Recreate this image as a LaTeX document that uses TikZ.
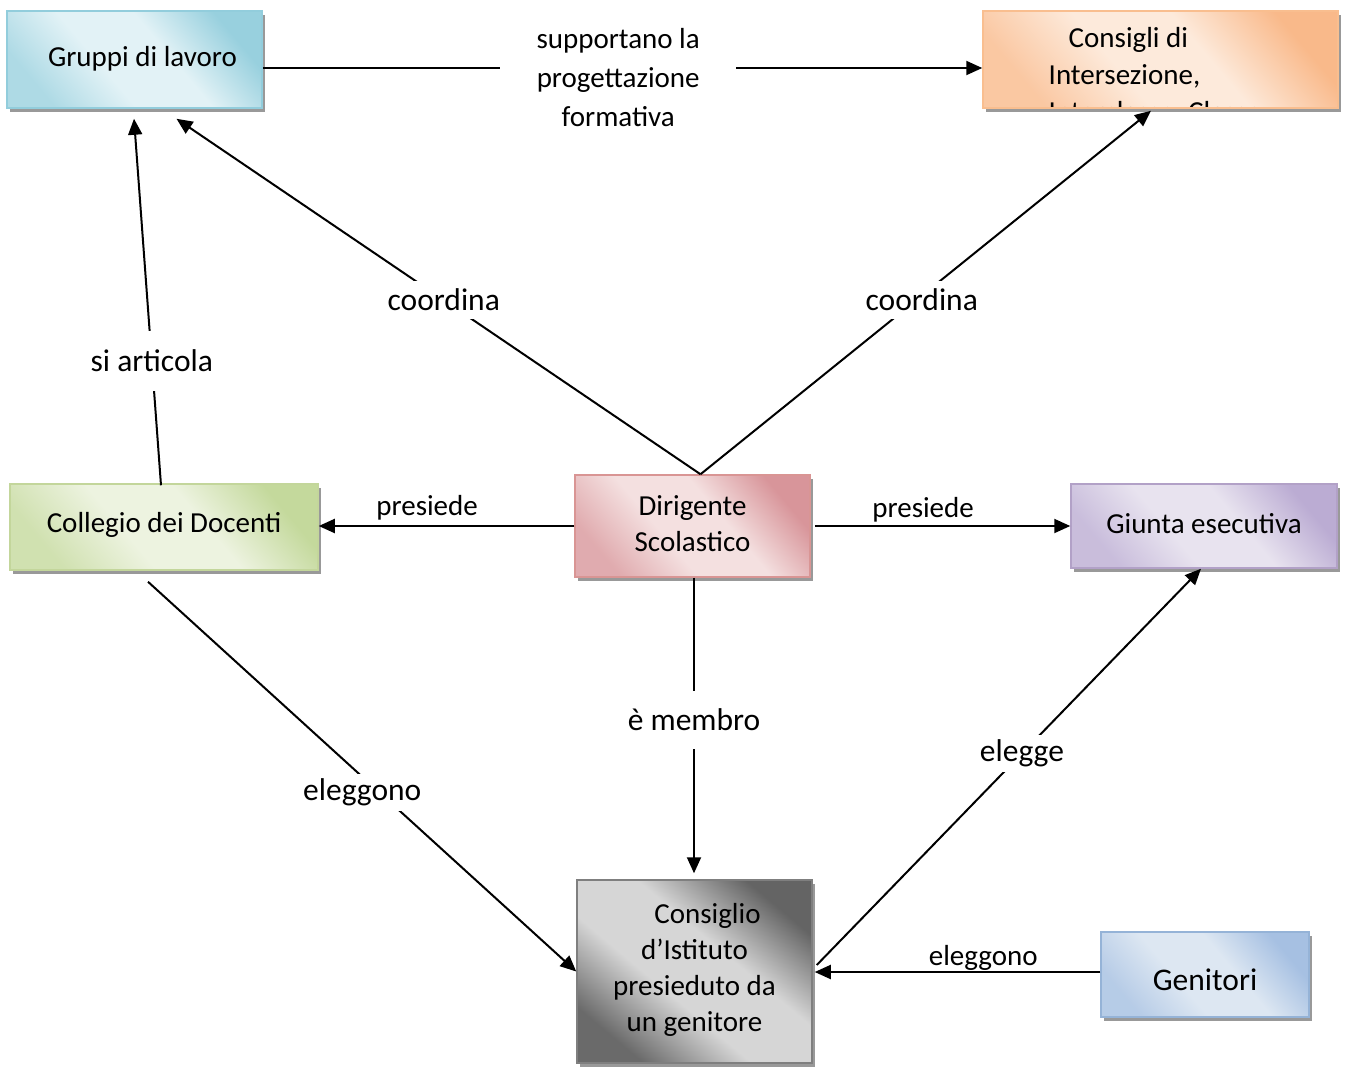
\documentclass[tikz,border=0pt]{standalone}
\usepackage{fontspec}
\setmainfont{Carlito}
\usetikzlibrary{arrows.meta,shadows,calc}
\definecolor{grB}{HTML}{92CDDC}\definecolor{grD}{HTML}{98D0DE}\definecolor{grP}{HTML}{E2F2F6}
\definecolor{coB}{HTML}{F9BE8F}\definecolor{coD}{HTML}{F9B98A}\definecolor{coP}{HTML}{FDEADB}
\definecolor{clB}{HTML}{C3D69B}\definecolor{clD}{HTML}{C4D99C}\definecolor{clP}{HTML}{EDF3E0}
\definecolor{diB}{HTML}{D99594}\definecolor{diD}{HTML}{D8959A}\definecolor{diP}{HTML}{F4E0E0}
\definecolor{giB}{HTML}{B2A1C7}\definecolor{giD}{HTML}{BBACD3}\definecolor{giP}{HTML}{E8E3EF}
\definecolor{geB}{HTML}{95B3D7}\definecolor{geD}{HTML}{A6C0E2}\definecolor{geP}{HTML}{DDE7F2}
\definecolor{ciB}{HTML}{7F7F7F}\definecolor{ciD}{HTML}{646464}\definecolor{ciP}{HTML}{D6D6D6}
\colorlet{grL}{grD!70!grP}\colorlet{coL}{coD!70!coP}\colorlet{clL}{clD!70!clP}
\colorlet{diL}{diD!70!diP}\colorlet{giL}{giD!70!giP}\colorlet{geL}{geD!70!geP}\colorlet{ciL}{ciD!95!ciP}
\colorlet{shlo}{white}\colorlet{shpa}{white}\colorlet{shhi}{white}
\pgfdeclareverticalshading[shlo,shpa,shhi]{wordgrad}{100bp}{color(0bp)=(shlo); color(25bp)=(shlo); color(42bp)=(shpa); color(58bp)=(shpa); color(75bp)=(shhi); color(100bp)=(shhi)}
\newcommand{\up}[2]{\raisebox{#1}[\height][\depth]{#2}}
\tikzset{
  box/.style={draw, line width=1.5pt, inner sep=0pt, align=center,
    font=\fontsize{29}{36}\selectfont,
    drop shadow={shadow xshift=3pt, shadow yshift=-4pt, fill=black!40, opacity=1}},
  tint/.style={draw=#1B, /utils/exec={\colorlet{shhi}{#1D}\colorlet{shpa}{#1P}\colorlet{shlo}{#1L}},
    shade, shading=wordgrad, shading angle=-50},
  arr/.style={line width=2pt, -{Triangle[length=16pt,width=14pt]}},
  lab/.style={fill=white, inner sep=3pt, font=\fontsize{31.5}{36}\selectfont},
  slab/.style={inner sep=3pt, font=\fontsize{29}{36}\selectfont, align=center}
}
\begin{document}
\begin{tikzpicture}[x=1pt,y=-1pt]
\useasboundingbox (0,0) rectangle (1348,1066);
% boxes
\node[box, tint=gr, minimum width=255pt, minimum height=97pt] (gruppi) at (134.5,59.5) {\up{1pt}{\hspace*{16pt}Gruppi di lavoro}};
\node[box, tint=co, minimum width=355pt, minimum height=97pt,
  path picture={\node[font=\fontsize{29}{37}\selectfont, align=left, inner sep=0pt] (consigliTxt)
    at ([xshift=-5.5pt, yshift=-16.5pt]path picture bounding box.center)
    {\hspace*{20pt}Consigli di\\Intersezione,\\Interclasse, Classe};}] (consigli) at (1160.5,59.5) {};
\node[box, tint=cl, minimum width=308pt, minimum height=86pt] (collegio) at (164,527) {\up{2pt}{Collegio dei Docenti}};
\node[box, tint=di, minimum width=235pt, minimum height=102pt] (dir) at (692.5,526) {\up{2.5pt}{Dirigente}\\\up{2.5pt}{Scolastico}};
\node[box, tint=gi, minimum width=266pt, minimum height=84pt] (giunta) at (1204,526) {\up{2pt}{Giunta esecutiva}};
\node[box, tint=ci, shading angle=-40, minimum width=235pt, minimum height=183pt] (consiglio) at (694.5,971.5)
  {\up{1.5pt}{\hspace*{26pt}Consiglio}\\\up{1.5pt}{d’Istituto}\\\up{1.5pt}{presieduto da}\\\up{1.5pt}{un genitore}};
\node[box, tint=ge, minimum width=208pt, minimum height=85pt, font=\fontsize{31.5}{36}\selectfont] (genitori) at (1205,974.5) {\up{-5pt}{Genitori}};
% connectors
\draw[arr] ([yshift=-8.5pt]gruppi.east) -- node[slab, fill=white, pos=0.494, minimum width=236pt, yshift=-10pt, font=\fontsize{29}{39}\selectfont] {supportano la\\progettazione\\formativa} ([yshift=-8.5pt]consigli.west);
\draw[arr] ([xshift=8pt]dir.north) -- node[lab, pos=0.49, inner ysep=8pt] {coordina} ([xshift=42pt,yshift=-10pt]gruppi.south);
\draw[arr] ([xshift=8pt]dir.north) -- node[lab, pos=0.48, xshift=5pt, inner ysep=8pt] {coordina} ([xshift=-9.5pt,yshift=-2pt]consigli.south);
\draw[arr] ([xshift=-3pt,yshift=-2pt]collegio.north) -- node[lab, pos=0.34, inner ysep=19pt] {si articola} ([xshift=-0.5pt,yshift=-10pt]gruppi.south);
\draw[arr] (dir.west) -- node[slab, pos=0.576, above=2pt] {presiede} (dir.west -| collegio.east);
\draw[arr] ([xshift=4pt]dir.east) -- node[slab, pos=0.424, above=0pt] {presiede} (dir.east -| giunta.west);
\draw[arr] ([xshift=1.5pt]dir.south) -- node[lab, pos=0.48, inner ysep=18pt] {è membro} ([xshift=-0.5pt,yshift=6pt]consiglio.north);
\draw[arr] ([xshift=-16pt,yshift=-11pt]collegio.south) -- node[lab, pos=0.54, xshift=-17pt, inner ysep=5pt] {eleggono} (consiglio.west);
\draw[arr] ([xshift=4pt,yshift=6.5pt]consiglio.east) -- node[lab, pos=0.534, inner ysep=5pt] {elegge} ([xshift=-3pt]giunta.south);
\draw[arr] ([yshift=2.5pt]genitori.west) -- node[slab, pos=0.41, above=-2pt] {eleggono} ($(genitori.west -| consiglio.east)+(2,-2.5)$);
\end{tikzpicture}
\end{document}
